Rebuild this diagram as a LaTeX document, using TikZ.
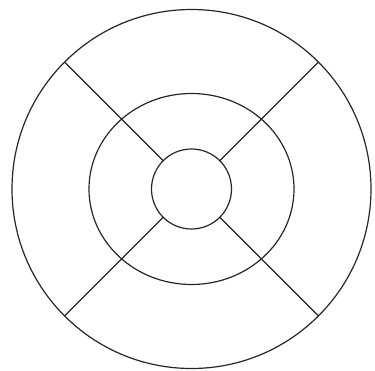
\documentclass[tikz,border=0pt]{standalone}
\usetikzlibrary{shapes.geometric}
\begin{document}
\begin{tikzpicture}[x=1pt,y=-1pt,
  ring/.style={draw=black!85, line width=1.2pt, inner sep=0pt, outer sep=0pt},
  spoke/.style={draw=black!85, line width=1.2pt}]
\useasboundingbox (0,0) rectangle (375,371);
\coordinate (c) at (191.5,189);
\node[ring, circle, minimum size=359pt] (outer) at (c) {};
\node[ring, ellipse, minimum width=205pt, minimum height=191pt] (middle) at (c) {};
\node[ring, circle, minimum size=80pt] (inner) at (c) {};
\draw[spoke] (inner.45) -- (outer.45);
\draw[spoke] (inner.135) -- (outer.135);
\draw[spoke] (inner.225) -- (outer.225);
\draw[spoke] (inner.315) -- (outer.315);
\end{tikzpicture}
\end{document}
